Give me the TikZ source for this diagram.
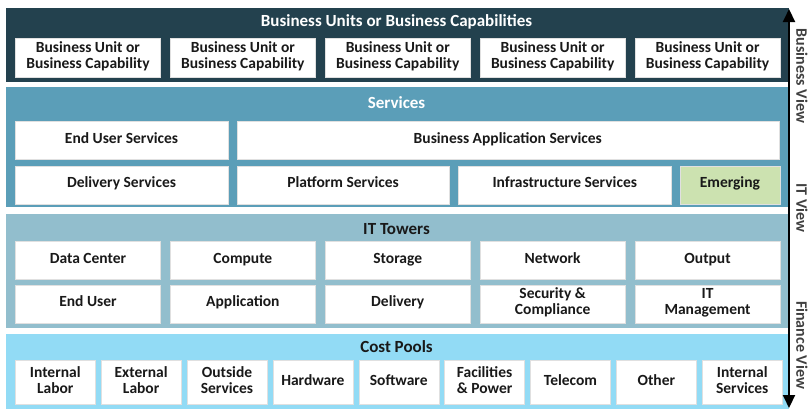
\documentclass[tikz,border=0pt]{standalone}
\usepackage{fontspec}
\setmainfont{Carlito}
\usepackage{xcolor}
\usetikzlibrary{positioning,arrows.meta}

\definecolor{bizteal}{RGB}{35,65,78}
\definecolor{svcblue}{RGB}{91,158,184}
\definecolor{towerblue}{RGB}{146,190,205}
\definecolor{poolcyan}{RGB}{146,219,245}
\definecolor{emerggreen}{RGB}{204,226,176}

\begin{document}
\begin{tikzpicture}[
    x=1pt, y=-1pt,
    band/.style={rectangle, anchor=north west, minimum width=783pt, inner sep=0pt},
    box/.style={rectangle, draw=black!12, line width=0.5pt, fill=white, align=center, inner sep=0pt, anchor=north west,
        text=black!90, font=\bfseries\fontsize{15.5}{16}\selectfont,
        execute at begin node=\strut, execute at end node=\strut},
    unit/.style={box, minimum width=145.4pt, minimum height=39pt},
    svc/.style={box, minimum height=38pt},
    tower/.style={box, minimum width=145.4pt, minimum height=38pt},
    pool/.style={box, minimum width=80pt, minimum height=44pt},
    title/.style={font=\bfseries\fontsize{17}{18}\selectfont},
    viewlabel/.style={rotate=-90, text=black!75, font=\bfseries\fontsize{16}{17}\selectfont},
    viewarrow/.style={{Triangle[width=12pt,length=13pt]}-{Triangle[width=12pt,length=13pt]}, line width=2pt}
]
\useasboundingbox (0,0) rectangle (810,413);

% bands
\node[band, fill=bizteal, minimum height=74pt] (bizband) at (6,8) {};
\node[band, fill=svcblue, minimum height=120pt] (svcband) at (6,87) {};
\node[band, fill=towerblue, minimum height=114pt] (towerband) at (6,214) {};
\node[band, fill=poolcyan, minimum height=75pt] (poolband) at (6,334) {};

\node[title, text=white] (biztitle) at (396.5,22) {Business Units or Business Capabilities};
\node[title, text=white] (svctitle) at (396.5,103) {Services};
\node[title, text=black!90] (towertitle) at (396.5,229) {IT Towers};
\node[title, text=black!90] (pooltitle) at (396.5,347) {Cost Pools};

% business units
\node[unit] (bu1) at (15,38) {Business Unit or\\Business Capability};
\node[unit, right=9pt of bu1] (bu2) {Business Unit or\\Business Capability};
\node[unit, right=9pt of bu2] (bu3) {Business Unit or\\Business Capability};
\node[unit, right=9pt of bu3] (bu4) {Business Unit or\\Business Capability};
\node[unit, right=9pt of bu4] (bu5) {Business Unit or\\Business Capability};

% services
\node[svc, minimum width=212.6pt] (enduser) at (15,121) {End User Services};
\node[svc, minimum width=541.9pt, right=8.5pt of enduser] (bizapp) {Business Application Services};
\node[svc, minimum width=212.6pt, below=6pt of enduser] (delivery) {Delivery Services};
\node[svc, minimum width=212.6pt, right=8.5pt of delivery] (platform) {Platform Services};
\node[svc, minimum width=212.6pt, right=8.5pt of platform] (infra) {Infrastructure Services};
\node[svc, minimum width=99.7pt, fill=emerggreen, right=8.5pt of infra] (emerging) {Emerging};

% it towers
\node[tower] (datacenter) at (15,241) {Data Center};
\node[tower, right=9pt of datacenter] (compute) {Compute};
\node[tower, right=9pt of compute] (storage) {Storage};
\node[tower, right=9pt of storage] (network) {Network};
\node[tower, right=9pt of network] (output) {Output};
\node[tower, below=5pt of datacenter] (tEnduser) {End User};
\node[tower, right=9pt of tEnduser] (application) {Application};
\node[tower, right=9pt of application] (tDelivery) {Delivery};
\node[tower, right=9pt of tDelivery] (security) {Security \&\\Compliance};
\node[tower, right=9pt of security] (itmgmt) {IT\\Management};

% cost pools
\node[pool] (intlabor) at (15,360) {Internal\\Labor};
\node[pool, right=5.375pt of intlabor] (extlabor) {External\\Labor};
\node[pool, right=5.375pt of extlabor] (outside) {Outside\\Services};
\node[pool, right=5.375pt of outside] (hardware) {Hardware};
\node[pool, right=5.375pt of hardware] (software) {Software};
\node[pool, right=5.375pt of software] (facilities) {Facilities\\\& Power};
\node[pool, right=5.375pt of facilities] (telecom) {Telecom};
\node[pool, right=5.375pt of telecom] (other) {Other};
\node[pool, right=5.375pt of other] (intsvc) {Internal\\Services};

% view axis
\coordinate (vtop) at (789,9);
\coordinate (vbot) at (789,408);
\draw[viewarrow] (vtop) -- (vbot);
\node[viewlabel] (bizview) at (802,76) {Business View};
\node[viewlabel] (itview) at (802,208) {IT View};
\node[viewlabel] (finview) at (802,345) {Finance View};
\end{tikzpicture}
\end{document}
